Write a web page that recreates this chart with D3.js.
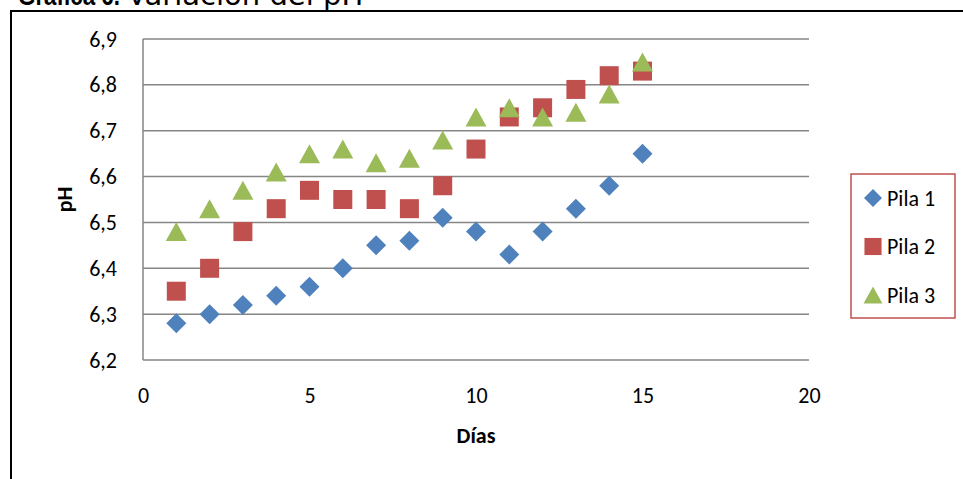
<!DOCTYPE html>
<html>
<head>
<meta charset="utf-8">
<script src="https://cdn.jsdelivr.net/npm/d3@7"></script>
<style>
  html, body { margin: 0; padding: 0; background: #fff; }
  svg { display: block; }
</style>
</head>
<body>
<svg id="chart" width="963" height="479"></svg>
<script>
const dias = [1, 2, 3, 4, 5, 6, 7, 8, 9, 10, 11, 12, 13, 14, 15];
const pila1 = [6.28, 6.30, 6.32, 6.34, 6.36, 6.40, 6.45, 6.46, 6.51, 6.48, 6.43, 6.48, 6.53, 6.58, 6.65];
const pila2 = [6.35, 6.40, 6.48, 6.53, 6.57, 6.55, 6.55, 6.53, 6.58, 6.66, 6.73, 6.75, 6.79, 6.82, 6.83];
const pila3 = [6.48, 6.53, 6.57, 6.61, 6.65, 6.66, 6.63, 6.64, 6.68, 6.73, 6.75, 6.73, 6.74, 6.78, 6.85];
const seriesNames = ["Pila 1", "Pila 2", "Pila 3"];
const xTicks = [0, 5, 10, 15, 20];
const yTicks = [6.2, 6.3, 6.4, 6.5, 6.6, 6.7, 6.8, 6.9];
const titleBold = "Gráfica 6.";
const titleRest = "Variación del pH";
const xLabel = "Días";
const yLabel = "pH";

const colors = ["#4F81BD", "#C0504D", "#9BBB59"];
const shapes = ["diamond", "square", "triangle"];
const font = "Calibri, Carlito, Lato, 'Open Sans', sans-serif";

const svg = d3.select("#chart");

// outer frame (only top & left visible)
svg.append("path")
  .attr("d", "M11,479 L11,11 L963,11")
  .attr("fill", "none").attr("stroke", "#000").attr("stroke-width", 2);

// title (partially cut off at top, as in the reference)
svg.append("text")
  .attr("x", 18).attr("y", 5).attr("fill", "#000")
  .attr("font-weight", "bold")
  .attr("font-family", "'Liberation Sans', Arial, sans-serif")
  .attr("font-size", 27)
  .attr("textLength", 102).attr("lengthAdjust", "spacingAndGlyphs")
  .text(titleBold);
svg.append("text")
  .attr("x", 127).attr("y", 5).attr("fill", "#000")
  .attr("font-family", "'DejaVu Sans', sans-serif")
  .attr("font-size", 29).text(titleRest);

const x = d3.scaleLinear().domain([0, 20]).range([143, 809]);
const y = d3.scaleLinear().domain([6.2, 6.9]).range([360, 39]);

// gridlines
svg.append("g").selectAll("line").data(yTicks).join("line")
  .attr("x1", x(0)).attr("x2", x(20))
  .attr("y1", d => y(d)).attr("y2", d => y(d))
  .attr("stroke", "#868686").attr("stroke-width", 1.5);

// left axis line
svg.append("line")
  .attr("x1", x(0)).attr("x2", x(0)).attr("y1", y(6.9)).attr("y2", y(6.2))
  .attr("stroke", "#868686").attr("stroke-width", 1.5);

const fmt = d => d3.format(".1f")(d).replace(".", ",");

// y axis tick labels
const yAxis = d3.axisLeft(y).tickValues(yTicks).tickFormat(fmt).tickSize(0).tickPadding(26);
const gy = svg.append("g").attr("transform", `translate(${x(0)},0)`).call(yAxis);
gy.select(".domain").remove();
gy.selectAll("text").attr("font-family", font).attr("font-size", 22).attr("fill", "#000");

// x axis tick labels
const xAxis = d3.axisBottom(x).tickValues(xTicks).tickFormat(d3.format("d")).tickSize(0).tickPadding(27);
const gx = svg.append("g").attr("transform", `translate(0,${y(6.2)})`).call(xAxis);
gx.select(".domain").remove();
gx.selectAll("text").attr("font-family", font).attr("font-size", 22).attr("fill", "#000");

// axis titles
svg.append("text").attr("x", x(10)).attr("y", 443)
  .attr("text-anchor", "middle").attr("font-family", font)
  .attr("font-size", 22).attr("font-weight", "bold").text(xLabel);
svg.append("text")
  .attr("transform", `translate(72,${(y(6.9) + y(6.2)) / 2}) rotate(-90)`)
  .attr("text-anchor", "middle").attr("font-family", font)
  .attr("font-size", 22).attr("font-weight", "bold").text(yLabel);

function markerPath(shape) {
  const p = d3.path();
  if (shape === "diamond") {
    const r = 10;
    p.moveTo(0, -r); p.lineTo(r, 0); p.lineTo(0, r); p.lineTo(-r, 0); p.closePath();
  } else if (shape === "square") {
    const h = 9.5;
    p.rect(-h, -h, 2 * h, 2 * h);
  } else {
    const w = 10.5, h = 9.5;
    p.moveTo(0, -h); p.lineTo(w, h); p.lineTo(-w, h); p.closePath();
  }
  return p.toString();
}

const allSeries = [pila1, pila2, pila3];
allSeries.forEach((vals, i) => {
  svg.append("g").selectAll("path").data(vals).join("path")
    .attr("d", markerPath(shapes[i]))
    .attr("transform", (d, j) => `translate(${x(dias[j])},${y(d)})`)
    .attr("fill", colors[i]);
});

// legend
svg.append("rect").attr("x", 851).attr("y", 174).attr("width", 104).attr("height", 144)
  .attr("fill", "#fff").attr("stroke", "#C0504D").attr("stroke-width", 1.5);
const legY = d3.scalePoint().domain(seriesNames).range([198, 295]);
seriesNames.forEach((name, i) => {
  const cy = legY(name);
  svg.append("path").attr("d", markerPath(shapes[i]))
    .attr("transform", `translate(873,${cy}) scale(0.9)`)
    .attr("fill", colors[i]);
  svg.append("text").attr("x", 887).attr("y", cy).attr("dy", "0.35em")
    .attr("font-family", font).attr("font-size", 22).attr("fill", "#000").text(name);
});
</script>
</body>
</html>
